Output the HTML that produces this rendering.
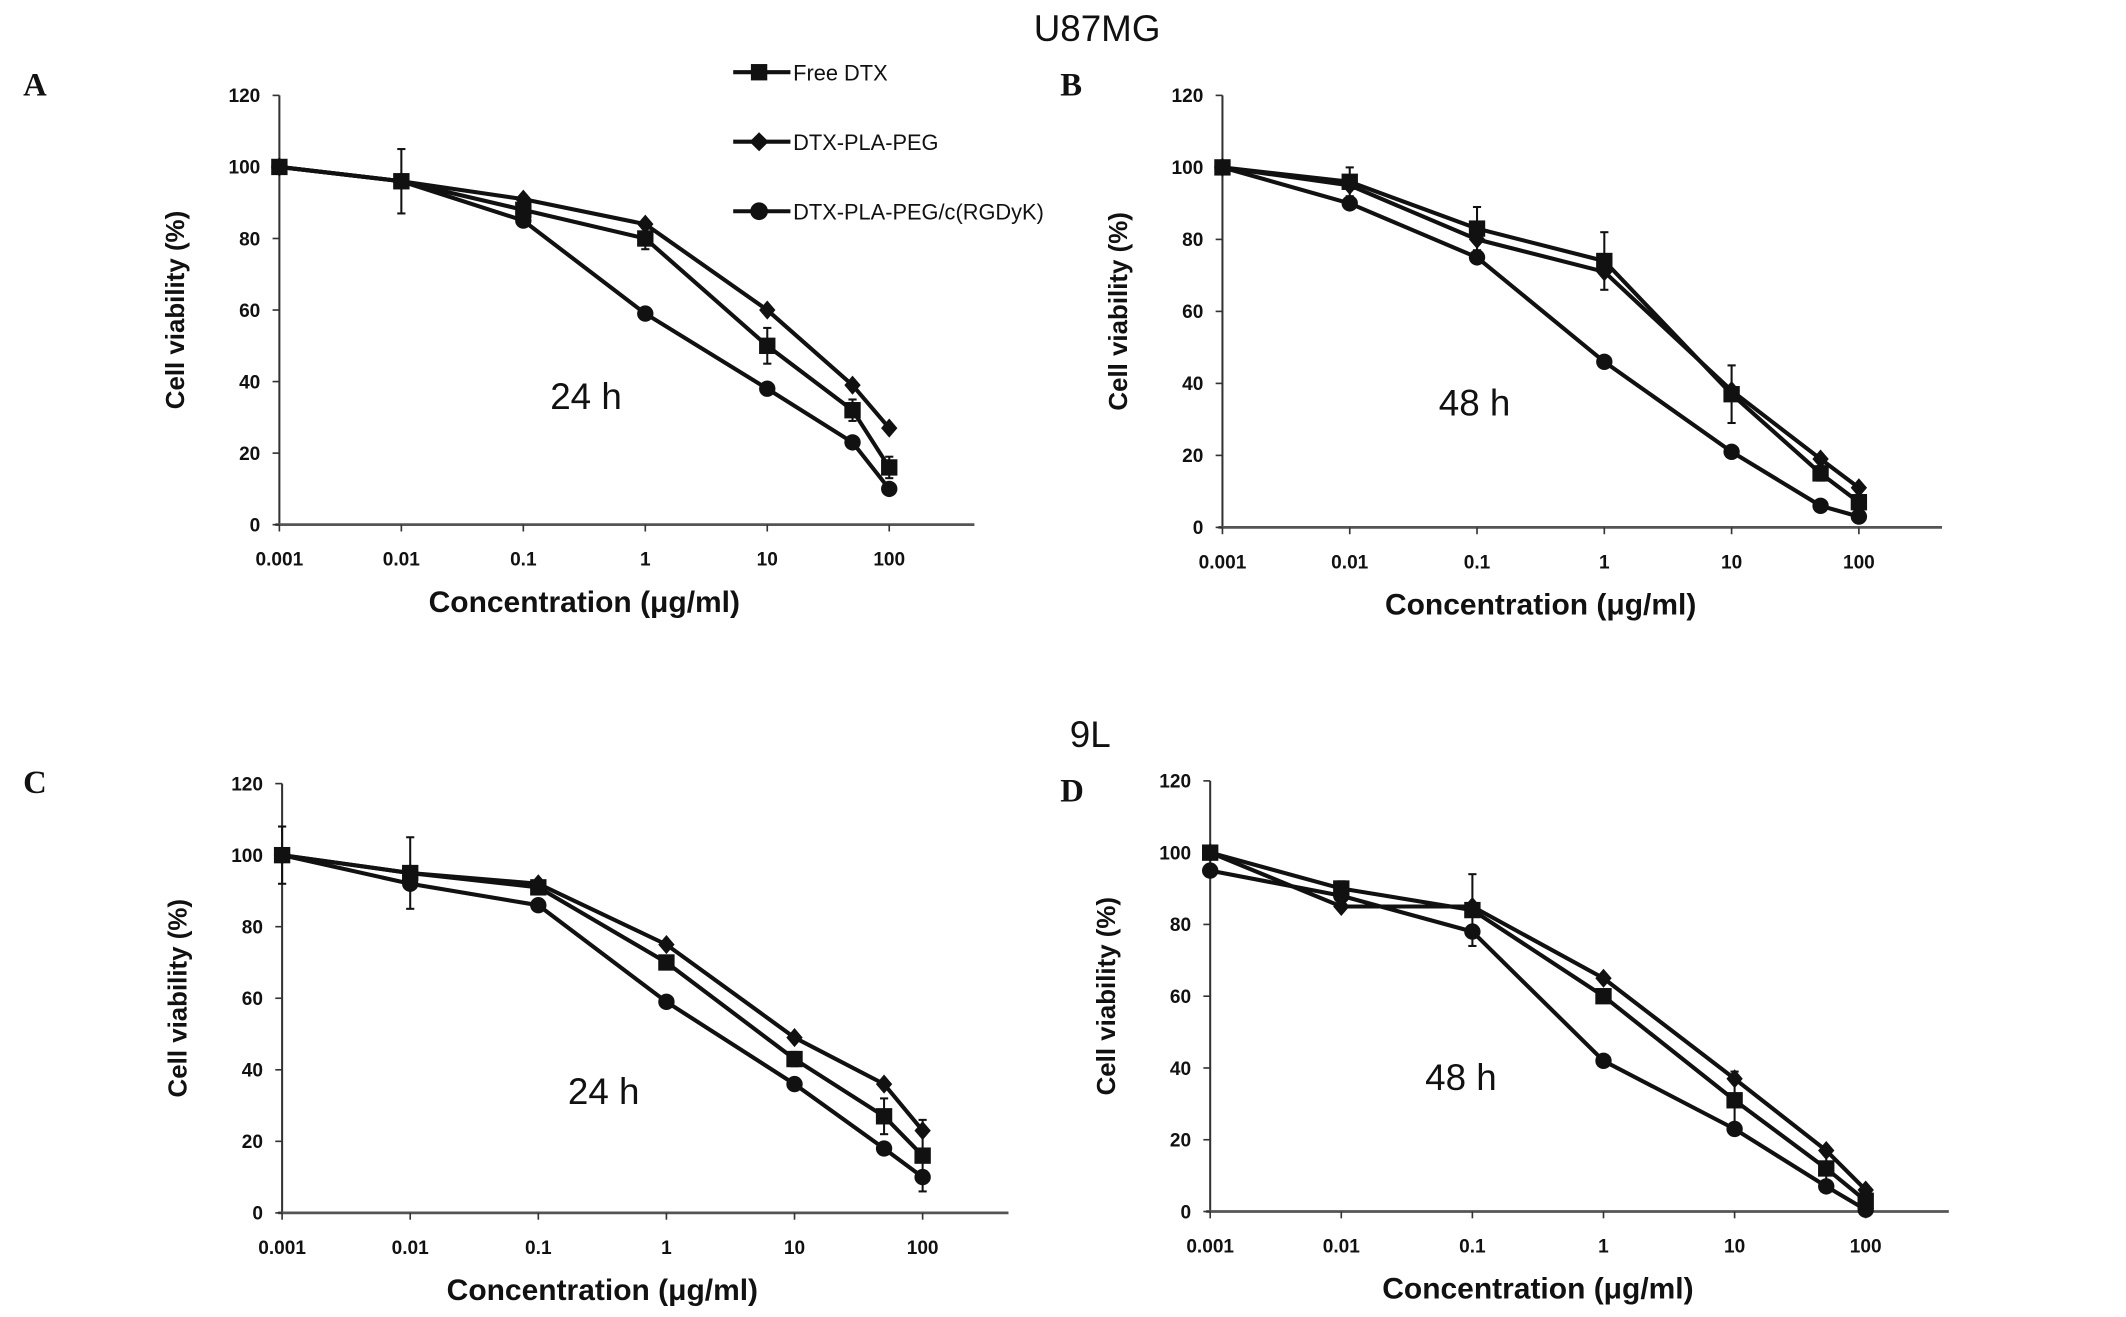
<!DOCTYPE html>
<html><head><meta charset="utf-8"><style>
html,body{margin:0;padding:0;background:#fff;}
svg{display:block;}
text{fill:#111;}
.tk{font-family:"Liberation Sans Narrow","Liberation Sans",sans-serif;font-size:14px;font-weight:bold;}
.yt{font-family:"Liberation Sans",sans-serif;font-weight:bold;font-size:19px;}
.xt{font-family:"Liberation Sans Narrow","Liberation Sans",sans-serif;font-size:22px;font-weight:bold;}
.pl{font-family:"Liberation Serif",serif;font-weight:bold;font-size:24px;}
.tt{font-family:"Liberation Sans Narrow","Liberation Sans",sans-serif;font-size:27px;}
.lg{font-family:"Liberation Sans Narrow","Liberation Sans",sans-serif;font-size:16px;}
</style></head><body>
<svg id="fig" width="2126" height="1317" viewBox="0 0 1560 966.4" preserveAspectRatio="none" xmlns="http://www.w3.org/2000/svg">
<text x="805" y="30" text-anchor="middle" class="tt">U87MG</text>
<text x="800" y="548" text-anchor="middle" class="tt">9L</text>
<g>
<line x1="538" y1="53" x2="580" y2="53" stroke="#111" stroke-width="3"/><rect x="551" y="47" width="12" height="12" fill="#111"/>
<text x="582" y="59" class="lg">Free DTX</text>
<line x1="538" y1="104" x2="580" y2="104" stroke="#111" stroke-width="3"/><polygon points="557,97 564,104 557,111 550,104" fill="#111"/>
<text x="582" y="110" class="lg">DTX-PLA-PEG</text>
<line x1="538" y1="155" x2="580" y2="155" stroke="#111" stroke-width="3"/><circle cx="557" cy="155" r="6.5" fill="#111"/>
<text x="582" y="161" class="lg">DTX-PLA-PEG/c(RGDyK)</text>
</g>
</svg>
<script>
const concs=[0.001,0.01,0.1,1,10,50,100];
const xTicks=["0.001","0.01","0.1","1","10","100"];
const yTicks=[0,20,40,60,80,100,120];
const aFree=[100,96,88,80,50,32,16], aPeg=[100,96,91,84,60,39,27], aRgd=[100,96,85,59,38,23,10];
const aErr=[1,9,3,3,5,3,3];
const bFree=[100,96,83,74,37,15,7], bPeg=[100,95,80,71,38,19,11], bRgd=[100,90,75,46,21,6,3];
const bErr=[1,4,6,8,8,2,1];
const cFree=[100,95,91,70,43,27,16], cPeg=[100,95,92,75,49,36,23], cRgd=[100,92,86,59,36,18,10];
const cErr=[8,10,2,1,2,5,10];
const dFree=[100,90,84,60,31,12,3], dPeg=[100,85,85,65,37,17,6], dRgd=[95,88,78,42,23,7,0.5];
const dErr=[1,2,10,1,8,5,1];
const panels=[
 {id:"a",letter:"A",lx:17,ly:70,x0:205,dec:89.5,xEnd:715,y0:385,y120:70,label:"24 h",tx:430,ty:300,s:[aFree,aPeg,aRgd],err:aErr},
 {id:"b",letter:"B",lx:778,ly:70,x0:897,dec:93.4,xEnd:1425,y0:387,y120:70,label:"48 h",tx:1082,ty:305,s:[bFree,bPeg,bRgd],err:bErr},
 {id:"c",letter:"C",lx:17,ly:582,x0:207,dec:94,xEnd:740,y0:890,y120:575,label:"24 h",tx:443,ty:810,s:[cFree,cPeg,cRgd],err:cErr},
 {id:"d",letter:"D",lx:778,ly:588,x0:888,dec:96.2,xEnd:1430,y0:889,y120:573,label:"48 h",tx:1072,ty:800,s:[dFree,dPeg,dRgd],err:dErr}
];
const NS="http://www.w3.org/2000/svg";
const svg=document.getElementById('fig');
function mk(t,a,p){const e=document.createElementNS(NS,t);for(const k in a)e.setAttribute(k,a[k]);(p||svg).appendChild(e);return e;}
const kinds=["free-dtx","dtx-pla-peg","dtx-pla-peg-rgd"];
panels.forEach(P=>{
 const g=mk('g',{});
 
 
 const X=c=>P.x0+Math.log10(c/0.001)*P.dec;
 const Y=v=>P.y0-(v/120)*(P.y0-P.y120);
 let t=mk('text',{x:P.lx,y:P.ly,class:'pl'},g);t.textContent=P.letter;
 
 mk('line',{x1:P.x0,y1:P.y120,x2:P.x0,y2:P.y0,stroke:'#333','stroke-width':1.5},g);
 mk('line',{x1:P.x0-3,y1:P.y0,x2:P.xEnd,y2:P.y0,stroke:'#555','stroke-width':2},g);
 yTicks.forEach(v=>{mk('line',{x1:P.x0-5,y1:Y(v),x2:P.x0,y2:Y(v),stroke:'#333','stroke-width':1.2},g);
  const tt=mk('text',{x:P.x0-14,y:Y(v)+5,'text-anchor':'end',class:'tk'},g);tt.textContent=v;
  });
 xTicks.forEach(l=>{const x=X(parseFloat(l));mk('line',{x1:x,y1:P.y0,x2:x,y2:P.y0+5,stroke:'#333','stroke-width':1.2},g);
  const tt=mk('text',{x:x,y:P.y0+30,'text-anchor':'middle',class:'tk'},g);tt.textContent=l;
  });
 const cy=(P.y0+P.y120)/2;
 const yt=mk('text',{x:0,y:0,class:'yt','text-anchor':'middle',transform:`translate(${P.x0-70},${cy}) rotate(-90)`},g);
 yt.textContent='Cell viability (%)';
 const xt=mk('text',{x:(P.x0+X(100))/2,y:P.y0+64,class:'xt','text-anchor':'middle'},g);
 xt.textContent='Concentration (μg/ml)';
 const lb=mk('text',{x:P.tx,y:P.ty,class:'tt','text-anchor':'middle'},g);lb.textContent=P.label;
 
 P.s.forEach((vals,si)=>{
  const sg=mk('g',{},g);
  
  
  mk('polyline',{points:vals.map((v,i)=>X(concs[i])+','+Y(v)).join(' '),fill:'none',stroke:'#111','stroke-width':3},sg);
  vals.forEach((v,i)=>{const x=X(concs[i]),y=Y(v);
   if(si===0){const e=P.err[i]*(P.y0-P.y120)/120;
    mk('line',{x1:x,y1:y-e,x2:x,y2:y+e,stroke:'#111','stroke-width':1.5},sg);
    mk('line',{x1:x-3,y1:y-e,x2:x+3,y2:y-e,stroke:'#111','stroke-width':1.5},sg);
    mk('line',{x1:x-3,y1:y+e,x2:x+3,y2:y+e,stroke:'#111','stroke-width':1.5},sg);}
   let m;
   if(si===0)m=mk('rect',{x:x-6,y:y-6,width:12,height:12,fill:'#111'},sg);
   else if(si===1)m=mk('polygon',{points:`${x},${y-7} ${x+6},${y} ${x},${y+7} ${x-6},${y}`,fill:'#111'},sg);
   else m=mk('circle',{cx:x,cy:y,r:6,fill:'#111'},sg);
   
   
  });
 });
});
</script>
</body></html>
